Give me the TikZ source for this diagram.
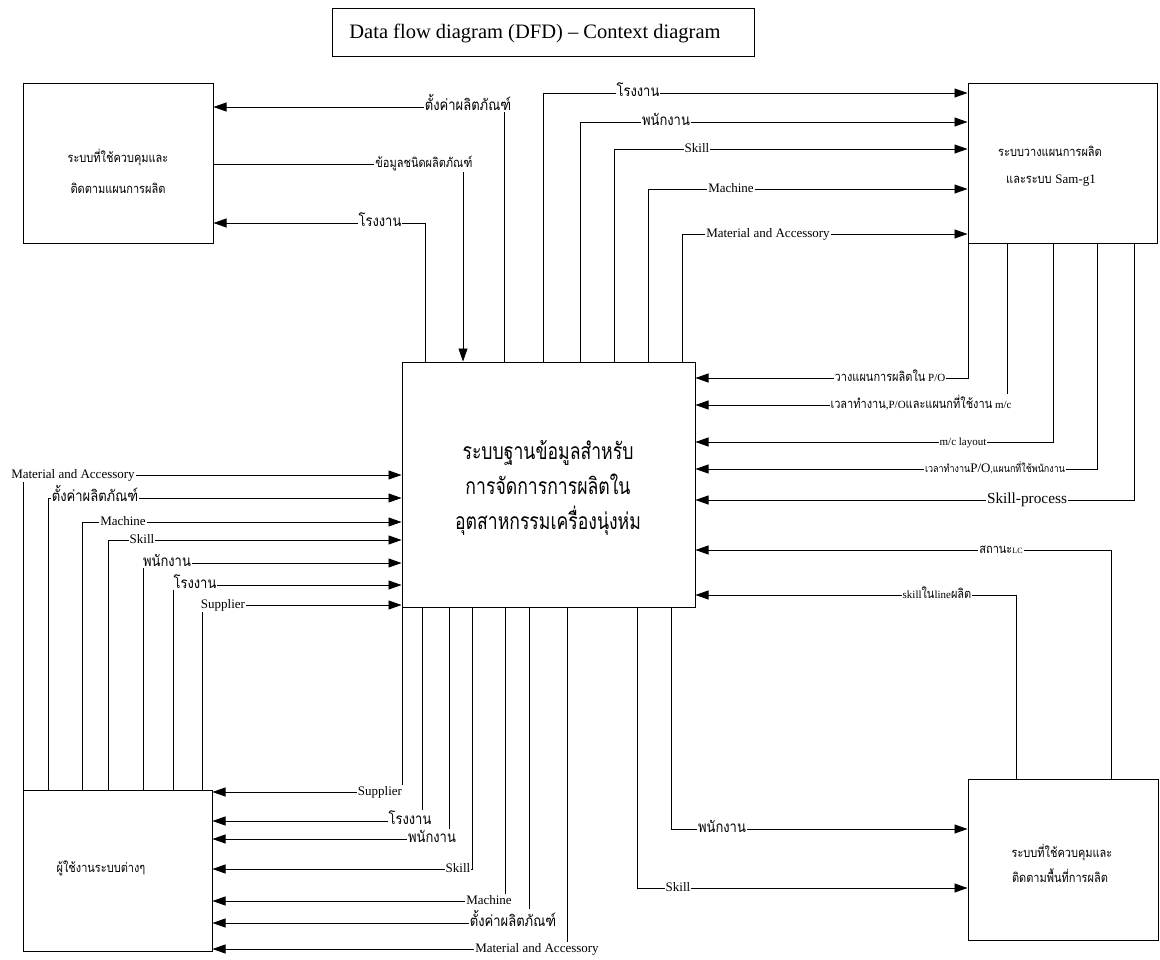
\documentclass[tikz,border=0pt]{standalone}
\usepackage{fontspec}
\setmainfont{Liberation Serif}
% condensed, slightly enlarged Thai face for labels and box texts
\newfontfamily\thaifont[Script=Thai, FakeStretch=0.85, Scale=1.176]{Loma}
% condensed Thai face for the process title
\newfontfamily\thaictr[Script=Thai, FakeStretch=0.77, Scale=1.04]{Loma}
\usetikzlibrary{arrows.meta}
\newcommand{\tx}[1]{{\thaifont #1}}

\begin{document}
\begin{tikzpicture}[x=1pt,y=-1pt,
  box/.style={draw, line width=1pt, inner sep=0pt},
  flow/.style={line width=0.8pt},
  arr/.style={flow, -{Triangle[length=13pt,width=9pt]}},
  lbl/.style={fill=white, inner sep=1pt, anchor=base, yshift=-3.5pt,
              font=\fontsize{13}{13}\selectfont},
  tlbl/.style={lbl, font=\thaifont\fontsize{13}{13}\selectfont},
  slbl/.style={lbl, font=\fontsize{11}{11}\selectfont},
  btxt/.style={inner sep=0pt, anchor=base, yshift=-4pt,
               font=\thaifont\fontsize{11}{11}\selectfont},
  ctxt/.style={inner sep=0pt, anchor=base, yshift=-6pt,
               font=\thaictr\fontsize{22}{22}\selectfont}
]
\useasboundingbox (0,0) rectangle (1160,960);

% title
\node[box, minimum width=422pt, minimum height=48pt] (title) at (543,33) {};
\node[inner sep=0pt, font=\fontsize{20.5}{20.5}\selectfont] (titletext) at (535,33)
      {Data flow diagram (DFD) -- Context diagram};

% external entities and the central process
\node[box, minimum width=190pt, minimum height=160pt] (A) at (118,164) {};
\node[box, minimum width=189pt, minimum height=160pt] (B) at (1062.5,164) {};
\node[box, minimum width=293pt, minimum height=245pt] (C) at (548.5,484.5) {};
\node[box, minimum width=189pt, minimum height=161pt] (D) at (117.5,870.5) {};
\node[box, minimum width=190pt, minimum height=161pt] (E) at (1063,859.5) {};

\node[btxt] (A1) at (118,159) {ระบบที่ใช้ควบคุมและ};
\node[btxt] (A2) at (118,190) {ติดตามแผนการผลิต};
\node[btxt] (B1) at (1050,153) {ระบบวางแผนการผลิต};
\node[btxt] (B2) at (1051,180) {และระบบ {\rmfamily\fontsize{13}{13}\selectfont Sam-g1}};
\node[ctxt] (C1) at (548,453) {ระบบฐานข้อมูลสำหรับ};
\node[ctxt] (C2) at (548,488) {การจัดการการผลิตใน};
\node[ctxt] (C3) at (548,523) {อุตสาหกรรมเครื่องนุ่งห่ม};
\node[btxt] (D1) at (101,868) {ผู้ใช้งานระบบต่างๆ};
\node[btxt] (E1) at (1062,853) {ระบบที่ใช้ควบคุมและ};
\node[btxt] (E2) at (1060,878) {ติดตามพื้นที่การผลิต};

% flows between the process and the control system (top left)
\draw[arr] (504,0 |- C.north) |- (A.east |- 0,107);
\draw[arr] (A.east |- 0,164) -| (463,0 |- C.north);
\draw[arr] (425,0 |- C.north) |- (A.east |- 0,223);

% flows to the planning system
\draw[arr] (543,0 |- C.north) |- (B.west |- 0,93);
\draw[arr] (580,0 |- C.north) |- (B.west |- 0,122);
\draw[arr] (614,0 |- C.north) |- (B.west |- 0,149);
\draw[arr] (648,0 |- C.north) |- (B.west |- 0,189);
\draw[arr] (682,0 |- C.north) |- (B.west |- 0,234);

% flows from the planning system
\draw[arr] (968,0 |- B.south) |- (C.east |- 0,378);
\draw[arr] (1007,0 |- B.south) |- (C.east |- 0,405);
\draw[arr] (1053,0 |- B.south) |- (C.east |- 0,442);
\draw[arr] (1097,0 |- B.south) |- (C.east |- 0,469);
\draw[arr] (1134,0 |- B.south) |- (C.east |- 0,500);

% flows from the area monitoring system
\draw[arr] (1111,0 |- E.north) |- (C.east |- 0,550);
\draw[arr] (1016,0 |- E.north) |- (C.east |- 0,595);

% flows to the area monitoring system
\draw[arr] (671,0 |- C.south) |- (E.west |- 0,829);
\draw[arr] (637,0 |- C.south) |- (E.west |- 0,888);

% flows from the users
\draw[arr] (23,0 |- D.north) |- (C.west |- 0,475);
\draw[arr] (48,0 |- D.north) |- (C.west |- 0,498);
\draw[arr] (82,0 |- D.north) |- (C.west |- 0,522);
\draw[arr] (108,0 |- D.north) |- (C.west |- 0,540);
\draw[arr] (143,0 |- D.north) |- (C.west |- 0,563);
\draw[arr] (173,0 |- D.north) |- (C.west |- 0,585);
\draw[arr] (202,0 |- D.north) |- (C.west |- 0,605);

% flows to the users
\draw[arr] (402,0 |- C.south) |- (D.east |- 0,792);
\draw[arr] (422,0 |- C.south) |- (D.east |- 0,821);
\draw[arr] (449,0 |- C.south) |- (D.east |- 0,839);
\draw[arr] (472,0 |- C.south) |- (D.east |- 0,869);
\draw[arr] (505,0 |- C.south) |- (D.east |- 0,901);
\draw[arr] (529,0 |- C.south) |- (D.east |- 0,923);
\draw[arr] (567,0 |- C.south) |- (D.east |- 0,949);

% flow labels
\node[tlbl] (l1) at (468,107) {ตั้งค่าผลิตภัณฑ์};
\node[tlbl, font=\thaifont\fontsize{11}{11}\selectfont] (l2) at (424,164) {ข้อมูลชนิดผลิตภัณฑ์};
\node[tlbl] (l3) at (380,223) {โรงงาน};

\node[tlbl] (l4) at (638,93) {โรงงาน};
\node[tlbl] (l5) at (666,122) {พนักงาน};
\node[lbl] (l6) at (697,149) {Skill};
\node[lbl] (l7) at (731,189) {Machine};
\node[lbl] (l8) at (768,234) {Material and Accessory};

\node[slbl] (l9) at (890,378) {\tx{วางแผนการผลิตใน} P/O};
\node[slbl] (l10) at (921,405) {\tx{เวลาทำงาน},P/O\tx{และแผนกที่ใช้งาน} m/c};
\node[slbl] (l11) at (963,442) {m/c layout};
\node[slbl, font=\fontsize{9}{9}\selectfont] (l12) at (995,469) {\tx{เวลาทำงาน}{\fontsize{13}{13}\selectfont P/O},\tx{แผนกที่ใช้พนักงาน}};
\node[lbl, font=\fontsize{15.3}{15.3}\selectfont] (l13) at (1027,500) {Skill-process};
\node[slbl] (l14) at (1001,550) {\tx{สถานะ}{\fontsize{8}{8}\selectfont LC}};
\node[slbl] (l15) at (937,595) {skill\tx{ใน}line\tx{ผลิต}};

\node[lbl] (l16) at (73,475) {Material and Accessory};
\node[tlbl] (l17) at (95,498) {ตั้งค่าผลิตภัณฑ์};
\node[lbl] (l18) at (123,522) {Machine};
\node[lbl] (l19) at (142,540) {Skill};
\node[tlbl] (l20) at (167,563) {พนักงาน};
\node[tlbl] (l21) at (195,585) {โรงงาน};
\node[lbl] (l22) at (223,605) {Supplier};

\node[lbl] (l23) at (380,792) {Supplier};
\node[tlbl] (l24) at (410,821) {โรงงาน};
\node[tlbl] (l25) at (432,839) {พนักงาน};
\node[lbl] (l26) at (458,869) {Skill};
\node[lbl] (l27) at (489,901) {Machine};
\node[tlbl] (l28) at (513,923) {ตั้งค่าผลิตภัณฑ์};
\node[lbl] (l29) at (537,949) {Material and Accessory};

\node[tlbl] (l30) at (722,829) {พนักงาน};
\node[lbl] (l31) at (678,888) {Skill};
\end{tikzpicture}
\end{document}
